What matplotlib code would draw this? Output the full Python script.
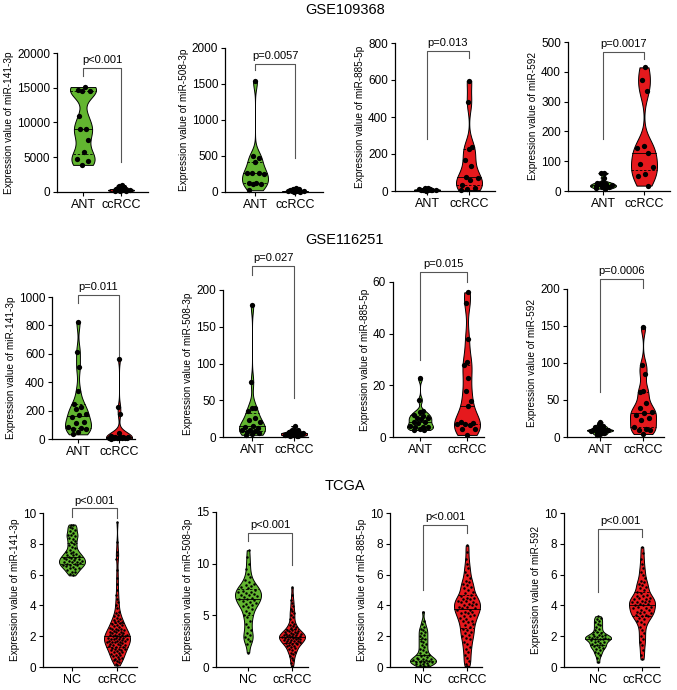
import numpy as np
import matplotlib
matplotlib.use("Agg")
import matplotlib.pyplot as plt
from matplotlib import mlab

plt.rcParams["font.family"] = ["Liberation Sans", "DejaVu Sans"]

# ---------------- data ----------------
datasets = ["GSE109368", "GSE116251", "TCGA"]
mirnas = ["miR-141-3p", "miR-508-3p", "miR-885-5p", "miR-592"]
groups_gse = ["ANT", "ccRCC"]
groups_tcga = ["NC", "ccRCC"]
pvals = [
    ["p<0.001", "p=0.0057", "p=0.013", "p=0.0017"],
    ["p=0.011", "p=0.027", "p=0.015", "p=0.0006"],
    ["p<0.001", "p<0.001", "p<0.001", "p<0.001"],
]
yticks = [
    [np.arange(0, 20001, 5000), np.arange(0, 2001, 500), np.arange(0, 801, 200), np.arange(0, 501, 100)],
    [np.arange(0, 1001, 200), np.arange(0, 201, 50), np.arange(0, 61, 20), np.arange(0, 201, 50)],
    [np.arange(0, 11, 2), np.arange(0, 16, 5), np.arange(0, 11, 2), np.arange(0, 11, 2)],
]

# GSE109368
a_141_ant = [15100, 14700, 14600, 14500, 10900, 9100, 9100, 7500, 5800, 4700, 4500, 3900]
a_141_rcc = [1000, 850, 700, 600, 500, 400, 350, 300, 250, 200, 150, 80]
a_508_ant = [1540, 500, 470, 420, 270, 265, 260, 255, 125, 120, 115, 110, 25]
a_508_rcc = [60, 40, 35, 30, 25, 20, 15, 12, 10, 8, 5, 3]
a_885_ant = [18, 15, 12, 10, 9, 8, 7, 6, 5, 4, 3, 2]
a_885_rcc = [595, 480, 240, 225, 170, 135, 75, 70, 60, 35, 18, 12, 5]
a_592_ant = [61, 60, 45, 30, 27, 25, 22, 20, 18, 17, 15, 12, 10, 8]
a_592_rcc = [415, 372, 335, 150, 143, 128, 90, 82, 57, 52, 18]

# GSE116251
b_141_ant = [826, 615, 505, 340, 250, 228, 210, 176, 170, 158, 118, 110, 82, 76, 72, 68, 48, 33]
b_141_rcc = [565, 228, 175, 45, 18, 16, 15, 14, 12, 11, 10, 9, 8, 7, 6, 5, 4, 3]
b_508_ant = [179, 75, 40, 39, 35, 26, 23, 20, 15, 14, 12, 10, 9, 8, 7, 6, 4, 3]
b_508_rcc = [15, 10, 9, 8, 7, 6, 6, 5, 5, 4, 4, 3, 3, 2, 2, 1]
b_885_ant = [22.7, 14.3, 10, 9.5, 8.5, 8.3, 7.5, 7.2, 7, 6, 5.8, 5.5, 4.2, 4, 4, 3.8, 3, 2.8, 2.7]
b_885_rcc = [56, 52, 38, 29, 28, 23, 18, 14, 12, 6, 5.5, 5, 5, 4.8, 3.2, 3, 0.8]
b_592_ant = [20, 17, 15, 14, 13, 12, 11, 10, 10, 9, 9, 8, 8, 7, 6, 5, 4, 3]
b_592_rcc = [149, 97, 85, 62, 61, 46, 39, 34, 33, 30, 26, 23, 13, 11, 10, 9, 4]

# TCGA
t_141_nc = [5.95, 6.05, 6.15, 6.2, 6.3, 6.35, 6.4, 6.45, 6.5, 6.55, 6.6, 6.6, 6.65, 6.7, 6.7,
            6.75, 6.8, 6.8, 6.85, 6.9, 6.9, 6.95, 7.0, 7.0, 7.05, 7.1, 7.1, 7.15, 7.2, 7.25,
            7.3, 7.35, 7.4, 7.45, 7.5, 7.6, 7.7, 7.8, 7.9, 8.0, 8.1, 8.2, 8.3, 8.4, 8.5,
            8.55, 8.6, 8.7, 8.8, 8.9, 9.0, 9.1, 9.2, 9.25]
t_141_rcc = [0.1, 0.2, 0.3, 0.4, 0.45, 0.5, 0.55, 0.6, 0.65, 0.7, 0.75, 0.8, 0.85, 0.9, 0.95,
             1.0, 1.05, 1.1, 1.1, 1.15, 1.2, 1.2, 1.25, 1.3, 1.3, 1.35, 1.4, 1.4, 1.45, 1.5,
             1.5, 1.55, 1.6, 1.6, 1.6, 1.65, 1.7, 1.7, 1.7, 1.75, 1.8, 1.8, 1.8, 1.85, 1.9,
             1.9, 1.9, 1.95, 2.0, 2.0, 2.0, 2.05, 2.1, 2.1, 2.1, 2.15, 2.2, 2.2, 2.25, 2.3,
             2.3, 2.35, 2.4, 2.4, 2.45, 2.5, 2.5, 2.55, 2.6, 2.65, 2.7, 2.75, 2.8, 2.85, 2.9,
             2.95, 3.0, 3.05, 3.1, 3.2, 3.3, 3.4, 3.5, 3.6, 3.8, 4.0, 4.2, 4.4, 4.7, 5.0,
             5.4, 5.8, 6.3, 7.0, 7.3, 7.5, 8.1, 9.4]
t_508_nc = [1.4, 2.2, 2.5, 2.7, 2.9, 3.1, 3.3, 3.6, 3.9, 4.2, 4.5, 4.8, 5.0, 5.2, 5.4, 5.6,
            5.8, 5.9, 6.0, 6.1, 6.2, 6.3, 6.4, 6.5, 6.6, 6.6, 6.7, 6.8, 6.9, 7.0, 7.0, 7.1,
            7.2, 7.3, 7.3, 7.4, 7.5, 7.6, 7.7, 7.8, 7.9, 8.0, 8.2, 8.4, 8.7, 9.0, 9.5, 10.0,
            10.6, 11.3]
t_508_rcc = [0.1, 0.4, 0.7, 0.9, 1.1, 1.3, 1.4, 1.5, 1.6, 1.7, 1.8, 1.9, 2.0, 2.0, 2.1, 2.2,
             2.2, 2.3, 2.3, 2.4, 2.4, 2.5, 2.5, 2.5, 2.6, 2.6, 2.7, 2.7, 2.7, 2.8, 2.8, 2.8,
             2.9, 2.9, 2.9, 3.0, 3.0, 3.0, 3.1, 3.1, 3.1, 3.2, 3.2, 3.2, 3.3, 3.3, 3.4, 3.4,
             3.5, 3.5, 3.6, 3.6, 3.7, 3.8, 3.9, 4.0, 4.1, 4.2, 4.4, 4.6, 4.8, 5.0, 5.2, 5.4,
             5.6, 5.9, 6.2, 6.5, 7.0, 7.7]
t_885_nc = [0.05, 0.1, 0.15, 0.2, 0.2, 0.25, 0.3, 0.3, 0.35, 0.35, 0.4, 0.4, 0.45, 0.45, 0.5,
            0.5, 0.55, 0.6, 0.65, 0.7, 0.75, 0.8, 0.9, 1.0, 1.1, 1.2, 1.3, 1.4, 1.5, 1.6,
            1.7, 1.8, 1.9, 2.0, 2.1, 2.2, 2.3, 2.4, 2.5, 2.6, 2.8, 3.0, 3.6]
t_885_rcc = [0.05, 0.2, 0.4, 0.6, 0.8, 1.0, 1.2, 1.3, 1.5, 1.6, 1.8, 1.9, 2.0, 2.1, 2.2, 2.3,
             2.4, 2.5, 2.6, 2.7, 2.8, 2.9, 3.0, 3.0, 3.1, 3.2, 3.3, 3.3, 3.4, 3.5, 3.5, 3.6,
             3.6, 3.7, 3.7, 3.8, 3.8, 3.9, 3.9, 4.0, 4.0, 4.1, 4.1, 4.2, 4.2, 4.3, 4.3, 4.4,
             4.4, 4.5, 4.5, 4.6, 4.7, 4.8, 4.9, 5.0, 5.1, 5.2, 5.3, 5.4, 5.5, 5.6, 5.8, 6.0,
             6.2, 6.4, 6.7, 7.0, 7.5, 7.9]
t_592_nc = [0.3, 0.6, 0.8, 0.9, 1.0, 1.1, 1.2, 1.25, 1.3, 1.35, 1.4, 1.45, 1.5, 1.55, 1.6,
            1.65, 1.7, 1.75, 1.8, 1.8, 1.85, 1.85, 1.9, 1.9, 1.95, 1.95, 2.0, 2.0, 2.05, 2.1,
            2.15, 2.2, 2.3, 2.4, 2.5, 2.6, 2.7, 2.8, 2.9, 3.0, 3.1, 3.2, 3.3]
t_592_rcc = [0.5, 0.8, 1.1, 1.4, 1.6, 1.8, 2.0, 2.2, 2.4, 2.6, 2.8, 2.9, 3.0, 3.1, 3.2, 3.3,
             3.3, 3.4, 3.4, 3.5, 3.5, 3.6, 3.6, 3.7, 3.7, 3.8, 3.8, 3.9, 3.9, 4.0, 4.0, 4.1,
             4.1, 4.2, 4.2, 4.2, 4.3, 4.3, 4.4, 4.4, 4.5, 4.5, 4.6, 4.6, 4.7, 4.8, 4.9, 5.0,
             5.1, 5.2, 5.3, 5.4, 5.5, 5.6, 5.8, 6.0, 6.2, 6.4, 6.7, 7.0, 7.4, 7.8]

panel_data = [
    [(a_141_ant, a_141_rcc), (a_508_ant, a_508_rcc), (a_885_ant, a_885_rcc), (a_592_ant, a_592_rcc)],
    [(b_141_ant, b_141_rcc), (b_508_ant, b_508_rcc), (b_885_ant, b_885_rcc), (b_592_ant, b_592_rcc)],
    [(t_141_nc, t_141_rcc), (t_508_nc, t_508_rcc), (t_885_nc, t_885_rcc), (t_592_nc, t_592_rcc)],
]

# bracket: bar level, left drop end, right drop end (data units)
brackets = [
    [(17840, 16690, 4317), (1778, 1694, 472), (757, 281, 719), (466, 175, 443)],
    [(1014, 958, 584), (233, 220, 53), (63.9, 29.8, 60), (213.5, 61, 201)],
    [(10.3, 9.74, 9.68), (12.97, 12.2, 9.87), (9.22, 5.0, 8.7), (8.96, 4.87, 8.44)],
]

# ---------------- layout (pixels) ----------------
W, H = 677, 690
# spine x, cat0 x, cat1 x, axis end x, top tick y, zero y
layout = [
    [(57, 83, 121, 148, 53, 192), (225, 255, 295, 323, 48, 192),
     (395, 427, 469, 495, 43, 191), (568, 603, 644, 670, 42, 191)],
    [(52, 78, 119, 135, 297, 439), (223, 252, 294, 308, 290, 437),
     (393, 420, 467, 484, 282, 437), (567, 600, 643, 664, 289, 437)],
    [(43, 72, 117, 137, 513, 667), (216, 248, 292, 308, 512, 667),
     (390, 423, 467, 482, 513, 667), (564, 598, 642, 659, 513, 667)],
]
title_y = [10, 240, 486]

GREEN = "#62B530"
RED = "#E5191D"


def bw(kde):
    # narrower than Scott's rule, closer to the bumpy GraphPad shapes
    return 0.45 * kde.num_dp ** (-0.2)


def violin(ax, data, pos, width, color, ms):
    data = np.asarray(data, float)
    kde = mlab.GaussianKDE(data, bw)
    ys = np.linspace(data.min(), data.max(), 300)
    dens = kde.evaluate(ys)
    half = 0.5 * width * dens / dens.max()
    ax.fill_betweenx(ys, pos - half, pos + half, facecolor=color,
                     edgecolor="black", lw=0.7, zorder=2, clip_on=False)
    q1, med, q3 = np.percentile(data, [25, 50, 75])
    for q, ls in ((q1, (0, (3, 2))), (med, "-"), (q3, (0, (3, 2)))):
        h = np.interp(q, ys, half)
        ax.plot([pos - h, pos + h], [q, q], color="black", lw=0.6, ls=ls,
                zorder=3, clip_on=False)
    u = (np.arange(1, len(data) + 1) * 0.618034) % 1 * 2 - 1
    xs = pos + 0.8 * np.interp(data, ys, half) * u
    ax.plot(xs, data, "o", color="black", ms=ms, mew=0, zorder=4, clip_on=False)


fig = plt.figure(figsize=(W / 100, H / 100), dpi=100)

for r in range(3):
    fig.text(345 / W, 1 - title_y[r] / H, datasets[r], ha="center", va="center", fontsize=10.5)
    groups = groups_tcga if r == 2 else groups_gse
    ms = 1.8 if r == 2 else 3.8
    for c in range(4):
        sx, c0, c1, ex, ty, zy = layout[r][c]
        ax = fig.add_axes([sx / W, 1 - zy / H, (ex - sx) / W, (zy - ty) / H])
        sp = c1 - c0
        ax.set_xlim(-(c0 - sx) / sp, 1 + (ex - c1) / sp)
        ticks = yticks[r][c]
        ax.set_ylim(0, ticks[-1])
        ax.set_yticks(ticks)
        ax.set_xticks([0, 1])
        ax.set_xticklabels(groups, fontsize=9)
        ax.tick_params(axis="y", labelsize=8.5, length=3, width=0.8, pad=2)
        ax.tick_params(axis="x", length=3, width=0.8, pad=2)
        for s in ("top", "right"):
            ax.spines[s].set_visible(False)
        for s in ("left", "bottom"):
            ax.spines[s].set_linewidth(0.9)
        ax.set_ylabel(f"Expression value of {mirnas[c]}", fontsize=7.2, labelpad=2)
        ax.patch.set_visible(False)

        width = 26 / sp
        d0, d1 = panel_data[r][c]
        violin(ax, d0, 0, width, GREEN, ms)
        violin(ax, d1, 1, width, RED, ms)

        by, l_end, r_end = brackets[r][c]
        ax.plot([0, 0, 1, 1], [l_end, by, by, r_end], color="#555555", lw=0.8,
                clip_on=False, zorder=1)
        ax.annotate(pvals[r][c], xy=(0.5, by), xytext=(0, 2), textcoords="offset points",
                    ha="center", va="bottom", fontsize=8, annotation_clip=False)

fig.savefig("out.png", dpi=100)
